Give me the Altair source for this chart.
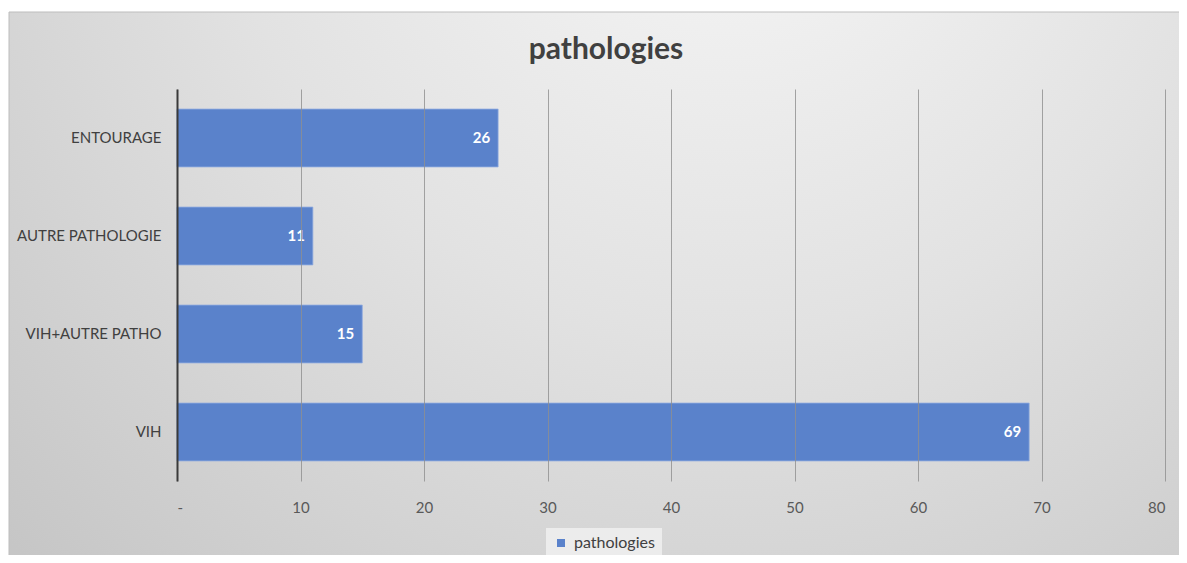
import altair as alt
import pandas as pd

categories = ["ENTOURAGE", "AUTRE PATHOLOGIE", "VIH+AUTRE PATHO", "VIH"]
values = [26, 11, 15, 69]
series_name = "pathologies"
x_ticks = [0, 10, 20, 30, 40, 50, 60, 70, 80]

df = pd.DataFrame({"cat": categories, "val": values, "series": [series_name] * len(categories)})

FONT = "Lato"

bg = alt.Chart(pd.DataFrame({"a": [0]})).mark_rect(
    color=alt.RadialGradient(
        gradient="radial",
        stops=[alt.GradientStop(offset=0, color="#f8f8f8"),
               alt.GradientStop(offset=0.5, color="#e2e2e2"),
               alt.GradientStop(offset=1, color="#c6c6c6")],
        x1=0.6, y1=0.1, r1=0, x2=0.6, y2=0.1, r2=0.85,
    ),
    stroke="#bdbdbd", strokeWidth=1,
).encode(
    x=alt.value(-168), x2=alt.value(1030),
    y=alt.value(-77), y2=alt.value(500),
)

base = alt.Chart(df)

bars = base.mark_bar(color="#5A82CB", stroke="#8eaae0", strokeWidth=0.8).encode(
    y=alt.Y("cat:N", sort=categories, title=None,
            scale=alt.Scale(paddingInner=0.41, paddingOuter=0.205),
            axis=alt.Axis(domainColor="#3a3a3a", domainWidth=2, ticks=False,
                          labelFont=FONT, labelFontSize=15, labelColor="#404040",
                          labelPadding=16, grid=False, zindex=2)),
    x=alt.X("val:Q", title=None,
            scale=alt.Scale(domain=[0, 80], nice=False),
            axis=alt.Axis(values=x_ticks, domain=False, ticks=False,
                          grid=True, gridColor="#8f8f8f", gridWidth=1, gridOpacity=0.8,
                          labelExpr="datum.value == 0 ? '-' : datum.label",
                          labelFont=FONT, labelFontSize=15, labelColor="#595959",
                          labelPadding=19, zindex=1)),
    fill=alt.Fill("series:N", scale=alt.Scale(range=["#5A82CB"]),
                  legend=alt.Legend(title=None, orient="none", legendX=369, legendY=439,
                                    fillColor="#ececec", padding=7, symbolType="square",
                                    symbolSize=64, symbolStrokeWidth=0,
                                    labelFont=FONT, labelFontSize=16, labelColor="#404040",
                                    labelOffset=5, zindex=3)),
)

labels = base.mark_text(align="right", dx=-8, color="white", fontWeight="bold",
                        font=FONT, fontSize=15).encode(
    y=alt.Y("cat:N", sort=categories),
    x="val:Q",
    text="val:Q",
)

chart = alt.layer(bg, bars, labels).properties(
    width=988, height=392,
    title=alt.TitleParams("pathologies", anchor="middle", dx=-65, offset=-77,
                          baseline="alphabetic",
                          font=FONT, fontSize=30, fontWeight="bold", color="#404040"),
    padding={"left": 169, "top": 81, "right": 14, "bottom": 74},
    autosize=alt.AutoSizeParams(type="none"),
).configure_view(stroke=None).configure(background="white")

chart.save("out.html", embed_options={"renderer": "svg", "actions": False})
